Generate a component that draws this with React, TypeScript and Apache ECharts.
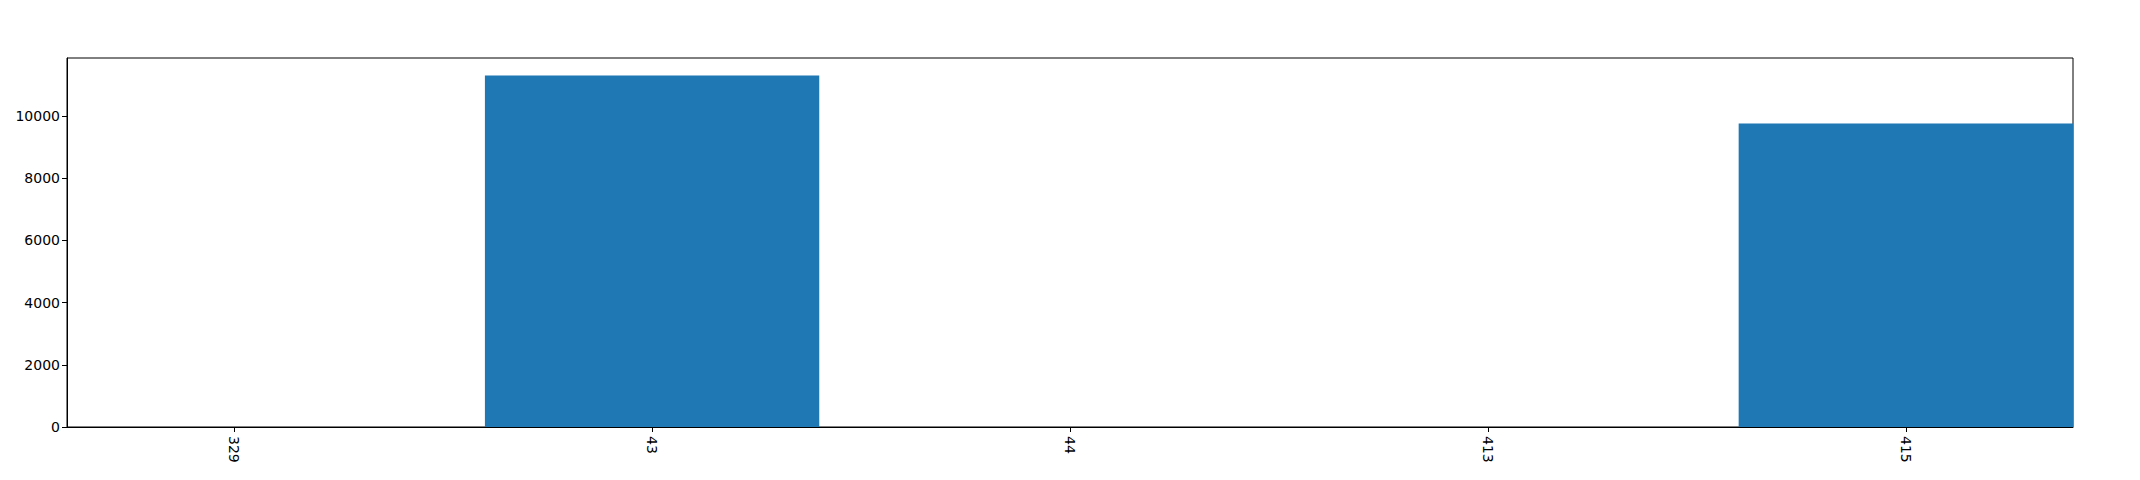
import React, { useEffect, useRef } from "react";
import * as echarts from "echarts";

const categories: string[] = ["329", "43", "44", "413", "415"];
const values: number[] = [0, 11300, 0, 0, 9760];
const yTicks: number[] = [0, 2000, 4000, 6000, 8000, 10000];

export default function App() {
  const ref = useRef<HTMLDivElement>(null);
  useEffect(() => {
    document.body.style.margin = "0";
    if (!ref.current) return;
    const chart = echarts.init(ref.current, null, { renderer: "svg" });
    const gridLeft = 67;
    const gridRight = 67;
    const plotW = 2140 - gridLeft - gridRight;
    const xMin = -0.4;
    const xMax = categories.length - 1 + 0.4;
    const barW = (plotW / (xMax - xMin)) * 0.8;
    const yMax = Math.max(...values) * 1.05;
    const font = "DejaVu Sans";
    chart.setOption({
      animation: false,
      grid: {
        left: gridLeft,
        right: gridRight,
        top: 58,
        bottom: 53,
        show: true,
        borderColor: "#000",
        borderWidth: 1,
        backgroundColor: "transparent",
      },
      xAxis: {
        type: "value",
        min: xMin,
        max: xMax,
        splitLine: { show: false },
        axisLine: { show: true, onZero: false, lineStyle: { color: "#000", width: 1 } },
        axisTick: {
          show: true,
          length: 5,
          customValues: categories.map((_, i) => i),
          lineStyle: { color: "#000" },
        },
        axisLabel: {
          show: true,
          customValues: categories.map((_, i) => i),
          formatter: (v: number) => categories[Math.round(v)] ?? "",
          rotate: -90,
          margin: 9,
          color: "#000",
          fontFamily: font,
          fontSize: 14,
        },
      },
      yAxis: {
        type: "value",
        min: 0,
        max: yMax,
        splitLine: { show: false },
        axisLine: { show: true, onZero: false, lineStyle: { color: "#000", width: 1 } },
        axisTick: { show: true, length: 5, customValues: yTicks, lineStyle: { color: "#000" } },
        axisLabel: {
          customValues: yTicks,
          formatter: (v: number) => String(v),
          margin: 7,
          color: "#000",
          fontFamily: font,
          fontSize: 14,
        },
      },
      series: [
        {
          type: "bar",
          data: values.map((v, i) => [i, v]),
          barWidth: barW,
          itemStyle: { color: "#1f77b4" },
          clip: true,
        },
      ],
    });
    return () => chart.dispose();
  }, []);
  return (
    <div
      ref={ref}
      style={{ position: "absolute", left: 0, top: 0, width: 2140, height: 480 }}
    />
  );
}
